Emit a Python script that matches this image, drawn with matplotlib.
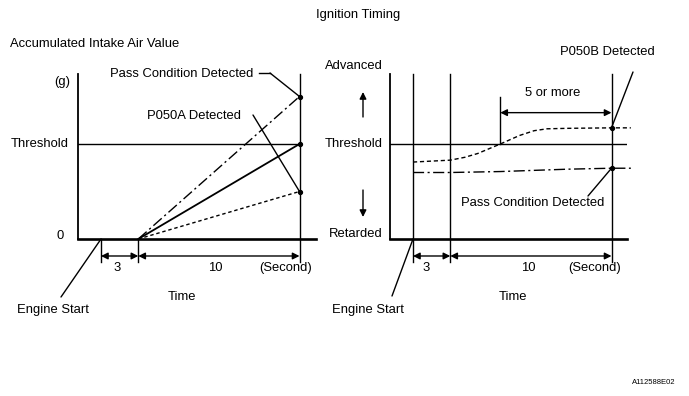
import numpy as np
import matplotlib
matplotlib.use("Agg")
import matplotlib.pyplot as plt
from matplotlib.lines import Line2D
from matplotlib.patches import FancyArrowPatch

plt.rcParams['font.family'] = ['Liberation Sans', 'DejaVu Sans']

# ---------------- data ----------------
time_marks = [0, 3, 13]              # engine start, start of monitoring, end (s)
segment_labels = ['3', '10']
# left panel: accumulated intake air (threshold = 1)
air_time = [3, 13]
air_pass = [0, 1.5]
air_threshold_case = [0, 1.0]
air_p050a = [0, 0.5]
threshold = 1.0
# right panel: ignition timing (threshold = 1)
ign_time = [0, 3, 3.9, 4.7, 5.4, 6.1, 7.3, 8.2, 9.0, 10.3, 13, 14.2]
ign_p050b = [0.81, 0.83, 0.86, 0.90, 0.95, 1.0, 1.09, 1.14, 1.16, 1.165, 1.17, 1.17]
ign_pass_time = [0, 3, 6.1, 10.3, 13, 14.2]
ign_pass = [0.70, 0.70, 0.71, 0.735, 0.745, 0.745]
cross_time = 6.1
five_more_top = 1.5
five_more_level = 1.33

W, H = 689, 396
fig = plt.figure(figsize=(W / 100, H / 100), dpi=100)
fig.patch.set_facecolor('white')

def fx(x):
    return x / W

def fy(y):
    return 1 - y / H

S1 = 37.3 / 3
S2 = 161.2 / 10

def fwd(t):
    t = np.asarray(t, float)
    return np.where(t < 3, t * S1, 3 * S1 + (t - 3) * S2)

def inv(u):
    u = np.asarray(u, float)
    return np.where(u < 3 * S1, u / S1, 3 + (u - 3 * S1) / S2)

YTOP = (239 - 74) / 95.0
FS = 9.4
LW = 1.0
DASHDOT = (0, (8, 2.5, 1.5, 2.5))

def make_ax(left_px, right_px):
    ax = fig.add_axes([fx(left_px), fy(239), (right_px - left_px) / W, (239 - 74) / H])
    ax.set_xscale('function', functions=(fwd, inv))
    ax.set_xlim(float(inv(-23)), float(inv(right_px - left_px - 23)))
    ax.set_ylim(0, YTOP)
    ax.set_xticks([])
    ax.set_yticks([])
    for s in ['top', 'right']:
        ax.spines[s].set_visible(False)
    ax.spines['bottom'].set_linewidth(1.9)
    ax.spines['left'].set_linewidth(1.3)
    ax.patch.set_alpha(0)
    return ax

axL = make_ax(78, 316)
axR = make_ax(390, 627)

def dims(ax, verticals_full):
    tr = ax.get_xaxis_transform()
    for t, full in zip(time_marks, verticals_full):
        y0 = 1.0 if full else 0.0
        ax.plot([t, t], [y0, -0.14], transform=tr, color='black', lw=LW, clip_on=False)
    ya = -0.103
    for a, b in zip(time_marks[:-1], time_marks[1:]):
        ax.annotate('', xy=(b, ya), xytext=(a, ya), xycoords=tr, textcoords=tr,
                    arrowprops=dict(arrowstyle='<|-|>', color='black', lw=LW,
                                    mutation_scale=10, shrinkA=0, shrinkB=0))

# ---------------- left panel ----------------
axL.plot([axL.get_xlim()[0], time_marks[-1]], [threshold, threshold], color='black', lw=LW)
dims(axL, [False, False, True])
axL.plot(air_time, air_pass, color='black', lw=LW, ls=DASHDOT)
axL.plot(air_time, air_threshold_case, color='black', lw=1.3)
axL.plot(air_time, air_p050a, color='black', lw=LW, ls=(0, (2.5, 2)))
axL.plot([air_time[-1]] * 3, [air_pass[-1], air_threshold_case[-1], air_p050a[-1]],
         'o', color='black', ms=2.8, clip_on=False)

# ---------------- right panel ----------------
axR.axhline(threshold, color='black', lw=LW)
dims(axR, [True, True, True])
axR.plot(ign_time, ign_p050b, color='black', lw=LW, ls=(0, (3, 2)), clip_on=False)
axR.plot(ign_pass_time, ign_pass, color='black', lw=LW, ls=DASHDOT, clip_on=False)
axR.plot([13, 13], [ign_p050b[-2], ign_pass[-2]], 'o', color='black', ms=2.8, ls='none')
axR.plot([cross_time, cross_time], [threshold, five_more_top], color='black', lw=LW)
axR.annotate('', xy=(13, five_more_level), xytext=(cross_time, five_more_level),
             arrowprops=dict(arrowstyle='<|-|>', color='black', lw=LW,
                             mutation_scale=10, shrinkA=0, shrinkB=0))

# ---------------- texts ----------------
def T(x, y, s, ha='center', size=FS, **kw):
    fig.text(fx(x), fy(y), s, ha=ha, va='center', fontsize=size, **kw)

T(358, 15, 'Ignition Timing')
T(10, 44, 'Accumulated Intake Air Value', ha='left')
T(70, 82, '(g)', ha='right')
T(69, 144, 'Threshold', ha='right')
T(64, 236, '0', ha='right')
T(147, 116, 'P050A Detected', ha='left')
T(110, 74, 'Pass Condition Detected', ha='left')
T(117, 268, segment_labels[0])
T(215, 268, segment_labels[1])
T(286, 268, '(Second)')
T(182, 297, 'Time')
T(53, 310, 'Engine Start')

T(383, 66, 'Advanced', ha='right')
T(383, 144, 'Threshold', ha='right')
T(383, 234, 'Retarded', ha='right')
T(607, 52, 'P050B Detected', ha='center')
T(553, 93, '5 or more')
T(533, 203, 'Pass Condition Detected')
T(426, 268, segment_labels[0])
T(528, 268, segment_labels[1])
T(595, 268, '(Second)')
T(513, 297, 'Time')
T(368, 310, 'Engine Start')
T(654, 383, 'A112588E02', size=5.5)

# advanced / retarded arrows
for (y0, y1) in [(117, 92), (190, 217)]:
    fig.add_artist(FancyArrowPatch(
        (fx(363), fy(y0)), (fx(363), fy(y1)), transform=fig.transFigure,
        arrowstyle='-|>', mutation_scale=10, color='black', lw=LW, shrinkA=0, shrinkB=0))

# leader lines
def leader(ax, xy, pts):
    if len(pts) > 1:
        fig.add_artist(Line2D([fx(p[0]) for p in pts], [fy(p[1]) for p in pts],
                              transform=fig.transFigure, color='black', lw=LW))
    ax.annotate('', xy=xy, xycoords='data', xytext=(fx(pts[-1][0]), fy(pts[-1][1])),
                textcoords='figure fraction',
                arrowprops=dict(arrowstyle='-', color='black', lw=LW, shrinkA=0, shrinkB=0))

leader(axL, (air_time[-1], air_pass[-1]), [(259, 73), (270, 73)])
leader(axL, (air_time[-1], air_p050a[-1]), [(253, 115)])
leader(axL, (time_marks[0], 0), [(61, 297)])
leader(axR, (13, ign_p050b[-2]), [(633, 72)])
leader(axR, (13, ign_pass[-2]), [(588, 196)])
leader(axR, (time_marks[0], 0), [(392, 296)])

fig.savefig('out.png', dpi=100, facecolor='white')
